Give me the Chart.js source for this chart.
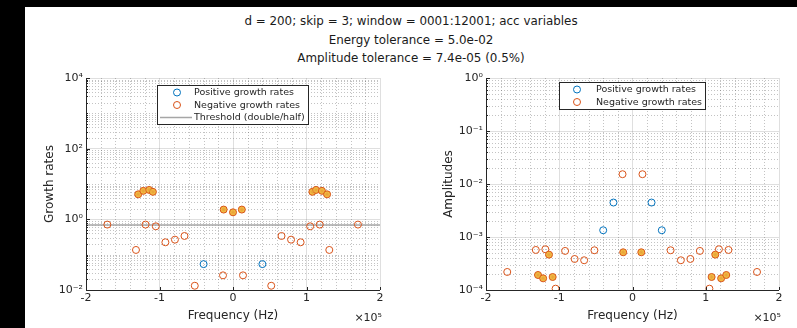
<!DOCTYPE html>
<html>
<head>
<meta charset="utf-8">
<script src="https://cdn.jsdelivr.net/npm/chart.js@4"></script>
<style>
  html, body { margin: 0; padding: 0; }
  body { width: 797px; height: 328px; position: relative; background: #fff; overflow: hidden;
         font-family: "DejaVu Sans", sans-serif; }
  #blackLeft { position: absolute; left: 0; top: 0; width: 25px; height: 328px; background: #000; }
  #blackTop { position: absolute; left: 0; top: 0; width: 797px; height: 7px; background: #000; }
  #title { position: absolute; left: 25px; top: 12px; width: 772px; text-align: center;
           font-size: 11.9px; line-height: 18.5px; color: #1a1a1a; }
  .box { position: absolute; top: 60px; height: 268px; }
  #leftBox { left: 25px; width: 375px; }
  #rightBox { left: 400px; width: 397px; }
</style>
</head>
<body>
<div id="blackLeft"></div>
<div id="blackTop"></div>
<div id="title">d = 200; skip = 3; window = 0001:12001; acc variables<br>Energy tolerance = 5.0e-02<br>Amplitude tolerance = 7.4e-05 (0.5%)</div>
<div class="box" id="leftBox"><canvas id="growth"></canvas></div>
<div class="box" id="rightBox"><canvas id="amp"></canvas></div>
<script>
// frequencies are in units of 1e5 Hz (axis shows x10^5)
var posFreq   = [-0.40, -0.26, 0.26, 0.40];
var posGrowth = [0.054, null, null, 0.054];
var posAmp    = [1.34e-3, 4.47e-3, 4.47e-3, 1.34e-3];

var negFreq   = [-1.71, -1.32, -1.19, -1.05, -0.92, -0.79, -0.66, -0.52, -0.136,
                 0.136, 0.52, 0.66, 0.79, 0.92, 1.05, 1.18, 1.31, 1.70];
var negGrowth = [0.71, 0.136, 0.71, 0.635, 0.224, 0.266, 0.338, 0.0132, 0.026,
                 0.026, 0.0132, 0.338, 0.266, 0.224, 0.635, 0.71, 0.136, 0.71];
var negAmp    = [2.19e-4, 5.7e-4, 5.87e-4, 1.06e-4, 5.46e-4, 3.85e-4, 3.64e-4, 5.62e-4, 0.0153,
                 0.0153, 5.62e-4, 3.64e-4, 3.85e-4, 5.46e-4, 1.06e-4, 5.87e-4, 5.7e-4, 2.19e-4];

// kept modes (negative growth, drawn filled)
var selFreq   = [-1.29, -1.22, -1.14, -1.09, -0.127, 0.0, 0.12, 1.08, 1.13, 1.21, 1.28];
var selGrowth = [5.1, 6.4, 6.8, 6.0, 1.89, 1.58, 1.89, 6.0, 6.8, 6.4, 5.1];
var selAmp    = [1.92e-4, 1.66e-4, 4.65e-4, 1.76e-4, 5.15e-4, null, 5.15e-4, 1.76e-4, 4.65e-4, 1.66e-4, 1.92e-4];

var threshold = 0.693;
var xTicks = [-2, -1, 0, 1, 2];
var growthTicks = [1e-2, 1e0, 1e2, 1e4];
var ampTicks = [1e-4, 1e-3, 1e-2, 1e-1, 1e0];

var BLUE = '#0072BD', ORANGE = '#D95319', YELLOW = '#EDB120', AXIS = '#262626';
var FONT = '"DejaVu Sans", sans-serif';

function pts(xs, ys) {
    var out = [];
    for (var i = 0; i < xs.length; i++) {
        if (ys[i] !== null) out.push({x: xs[i], y: ys[i]});
    }
    return out;
}

var SUP = {'-': '\u207B', '0': '\u2070', '1': '\u00B9', '2': '\u00B2', '3': '\u00B3', '4': '\u2074',
           '5': '\u2075', '6': '\u2076', '7': '\u2077', '8': '\u2078', '9': '\u2079'};
function pow10(v) {
    var e = String(Math.round(Math.log10(v)));
    var s = '';
    for (var i = 0; i < e.length; i++) s += SUP[e[i]];
    return '10' + s;
}

// minor dotted grid, inward ticks, axis lines, x10^5 note and in-plot legend
var matlabLook = {
    id: 'matlabLook',
    beforeDatasetsDraw: function(chart) {
        var ctx = chart.ctx, a = chart.chartArea;
        var xs = chart.scales.x, ys = chart.scales.y;
        ctx.save();
        ctx.lineWidth = 1;
        ctx.strokeStyle = 'rgba(38,38,38,0.28)';
        ctx.setLineDash([1, 2]);
        for (var k = -20; k <= 20; k += 2) {
            if (k % 10 === 0) continue;
            var px = Math.round(xs.getPixelForValue(k / 10)) + 0.5;
            ctx.beginPath(); ctx.moveTo(px, a.top); ctx.lineTo(px, a.bottom); ctx.stroke();
        }
        var lo = Math.round(Math.log10(ys.min)), hi = Math.round(Math.log10(ys.max));
        var majors = chart.options.plugins.matlabLook.majors;
        for (var e = lo; e < hi; e++) {
            for (var m = 1; m <= 9; m++) {
                var v = m * Math.pow(10, e);
                if (m === 1 && majors.indexOf(v) >= 0) continue;
                var py = Math.round(ys.getPixelForValue(v)) + 0.5;
                ctx.beginPath(); ctx.moveTo(a.left, py); ctx.lineTo(a.right, py); ctx.stroke();
            }
        }
        ctx.restore();
    },
    afterDraw: function(chart) {
        var ctx = chart.ctx, a = chart.chartArea;
        var xs = chart.scales.x, ys = chart.scales.y;
        var cfg = chart.options.plugins.matlabLook;
        ctx.save();
        ctx.strokeStyle = AXIS;
        ctx.lineWidth = 1;
        ctx.setLineDash([]);
        // axis lines
        ctx.beginPath();
        ctx.moveTo(Math.round(a.left) + 0.5, a.top);
        ctx.lineTo(Math.round(a.left) + 0.5, Math.round(a.bottom) + 0.5);
        ctx.lineTo(a.right, Math.round(a.bottom) + 0.5);
        ctx.stroke();
        // inward ticks
        ctx.beginPath();
        xTicks.forEach(function(t) {
            var px = Math.round(xs.getPixelForValue(t)) + 0.5;
            ctx.moveTo(px, a.bottom); ctx.lineTo(px, a.bottom - 3);
        });
        var lo = Math.round(Math.log10(ys.min)), hi = Math.round(Math.log10(ys.max));
        for (var e = lo; e <= hi; e++) {
            for (var m = 1; m <= 9; m++) {
                var v = m * Math.pow(10, e);
                if (v > ys.max * 1.0001) break;
                var py = Math.round(ys.getPixelForValue(v)) + 0.5;
                var len = (m === 1 && cfg.majors.indexOf(v) >= 0) ? 4 : 2;
                ctx.moveTo(a.left, py); ctx.lineTo(a.left + len, py);
            }
        }
        ctx.stroke();
        // exponent note
        ctx.fillStyle = AXIS;
        ctx.font = '11px ' + FONT;
        ctx.textAlign = 'right';
        ctx.textBaseline = 'middle';
        ctx.fillText('\u00D710\u2075', a.right + 2, a.bottom + 28);
        // legend
        var L = cfg.legend;
        ctx.fillStyle = '#fff';
        ctx.fillRect(L.x, L.y, L.w, L.h);
        ctx.strokeStyle = AXIS;
        ctx.strokeRect(L.x + 0.5, L.y + 0.5, L.w, L.h);
        ctx.font = '9.5px ' + FONT;
        ctx.textAlign = 'left';
        L.items.forEach(function(it, i) {
            var cy = L.y + 7.5 + i * 12.5;
            if (it.line) {
                ctx.strokeStyle = it.color; ctx.lineWidth = 1.5;
                ctx.beginPath(); ctx.moveTo(L.x + 3, cy); ctx.lineTo(L.x + 35, cy); ctx.stroke();
            } else {
                ctx.strokeStyle = it.color; ctx.lineWidth = 1;
                ctx.beginPath(); ctx.arc(L.x + L.mx, cy, 3.5, 0, Math.PI * 2); ctx.stroke();
            }
            ctx.fillStyle = AXIS;
            ctx.fillText(it.text, L.x + L.tx, cy + 0.5);
        });
        ctx.restore();
    }
};

function makeChart(id, yLabel, yMin, yMax, majors, datasets, geo, legend) {
    var ctx = document.getElementById(id).getContext('2d');
    return new Chart(ctx, {
        type: 'scatter',
        data: { datasets: datasets },
        plugins: [matlabLook],
        options: {
            responsive: true,
            maintainAspectRatio: false,
            animation: false,
            layout: { padding: { left: 0, right: geo.right, top: 18, bottom: 0 } },
            plugins: {
                legend: { display: false },
                tooltip: { enabled: false },
                matlabLook: { majors: majors, legend: legend }
            },
            scales: {
                x: {
                    type: 'linear', min: -2, max: 2,
                    afterBuildTicks: function(s) { s.ticks = xTicks.map(function(v) { return {value: v}; }); },
                    afterFit: function(s) { s.height = 38; },
                    ticks: { color: AXIS, font: { family: FONT, size: 11 }, padding: 2,
                             maxRotation: 0, callback: function(v) { return String(v); } },
                    grid: { color: 'rgba(38,38,38,0.15)', drawTicks: false },
                    border: { display: false },
                    title: { display: true, text: 'Frequency (Hz)', color: AXIS,
                             font: { family: FONT, size: 12 }, padding: { top: 0, bottom: 5 } }
                },
                y: {
                    type: 'logarithmic', min: yMin, max: yMax,
                    afterBuildTicks: function(s) { s.ticks = majors.map(function(v) { return {value: v}; }); },
                    afterFit: function(s) { s.width = geo.yw; },
                    ticks: { color: AXIS, font: { family: FONT, size: 11 }, padding: 3,
                             callback: function(v) { return pow10(v); } },
                    grid: { color: 'rgba(38,38,38,0.15)', drawTicks: false },
                    border: { display: false },
                    title: { display: true, text: yLabel, color: AXIS,
                             font: { family: FONT, size: 12 }, padding: { top: geo.tp, bottom: 0 } }
                }
            }
        }
    });
}

function circleSet(data, color, order) {
    return { data: data, pointStyle: 'circle', pointRadius: 3.5, borderWidth: 1,
             borderColor: color, backgroundColor: 'rgba(0,0,0,0)', showLine: false, order: order };
}
function keptSets(data) {
    return [
        { data: data, pointStyle: 'circle', pointRadius: 3.5, borderWidth: 1,
          borderColor: ORANGE, backgroundColor: '#F2BE45', showLine: false, order: 3 },
        { data: data, pointStyle: 'star', pointRadius: 2.2, borderWidth: 0.8,
          borderColor: '#E9A23A', backgroundColor: 'rgba(0,0,0,0)', showLine: false, order: 2 }
    ];
}

var growthSets = [
    circleSet(pts(posFreq, posGrowth), BLUE, 1),
    circleSet(pts(negFreq, negGrowth), ORANGE, 5)
].concat(keptSets(pts(selFreq, selGrowth)));
growthSets.push({ data: [{x: -2, y: threshold}, {x: 2, y: threshold}], showLine: true,
                  borderColor: '#a6a6a6', borderWidth: 1.5, pointRadius: 0, order: 10 });

var ampSets = [
    circleSet(pts(posFreq, posAmp), BLUE, 1),
    circleSet(pts(negFreq, negAmp), ORANGE, 5)
].concat(keptSets(pts(selFreq, selAmp)));

makeChart('growth', 'Growth rates', 1e-2, 1e4, growthTicks, growthSets,
    { right: 20, yw: 61, tp: 18 },
    { x: 132, y: 25, w: 151, h: 39, mx: 20, tx: 37, items: [
        { text: 'Positive growth rates', color: BLUE },
        { text: 'Negative growth rates', color: ORANGE },
        { text: 'Threshold (double/half)', color: '#a6a6a6', line: true } ] });

makeChart('amp', 'Amplitudes', 1e-4, 1e0, ampTicks, ampSets,
    { right: 18, yw: 86, tp: 42 },
    { x: 159, y: 22, w: 146, h: 27, mx: 18, tx: 37, items: [
        { text: 'Positive growth rates', color: BLUE },
        { text: 'Negative growth rates', color: ORANGE } ] });
</script>
</body>
</html>
